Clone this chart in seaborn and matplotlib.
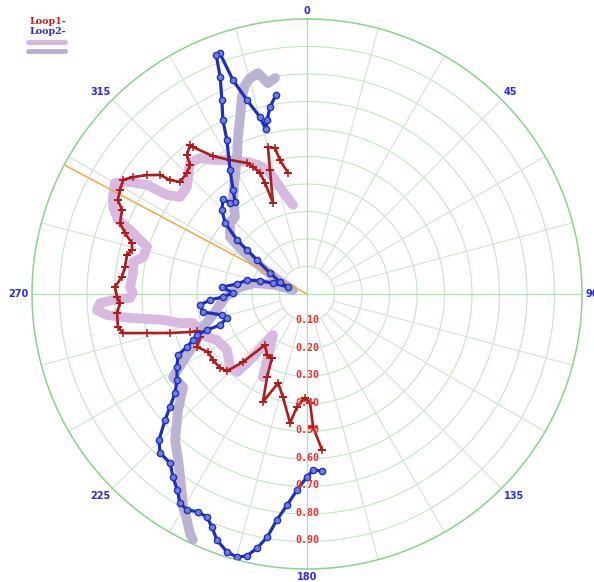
import numpy as np
import pandas as pd
import matplotlib
matplotlib.use("Agg")
import matplotlib.pyplot as plt
from matplotlib.lines import Line2D
import seaborn as sns

# Loop1: compass bearing (degrees, clockwise from north) and radius
loop1_deg = [351.1, 348.6, 347.6, 345.1, 343.4, 339.5, 339.3, 338.8, 337.0, 335.4,
             330.1, 325.7, 322.2, 321.9, 319.2, 317.8, 315.2, 311.4, 309.8, 309.0,
             306.6, 303.9, 301.8, 299.1, 296.4, 294.4, 290.8, 288.5, 286.2, 284.1,
             282.2, 278.4, 275.3, 272.1, 269.1, 267.2, 264.3, 260.1, 258.0, 256.3,
             254.1, 252.0, 251.4, 248.1, 244.3, 239.6, 234.9, 229.6, 226.1, 223.3,
             219.5, 213.3, 208.7, 205.7, 202.2, 198.0, 193.1, 187.5, 185.1, 181.1,
             178.4, 177.4, 174.5]
loop1_r = [0.445, 0.497, 0.544, 0.553, 0.471, 0.353, 0.432, 0.472, 0.502, 0.524,
           0.562, 0.607, 0.676, 0.689, 0.668, 0.633, 0.620, 0.616, 0.648, 0.688,
           0.725, 0.762, 0.787, 0.778, 0.768, 0.739, 0.727, 0.698, 0.663, 0.656,
           0.670, 0.669, 0.676, 0.699, 0.691, 0.681, 0.694, 0.698, 0.684, 0.599,
           0.518, 0.447, 0.422, 0.419, 0.444, 0.417, 0.418, 0.415, 0.404, 0.340,
           0.240, 0.265, 0.265, 0.335, 0.424, 0.340, 0.385, 0.473, 0.413, 0.378,
           0.396, 0.484, 0.570]

# Loop2
loop2_deg = [351.1, 348.8, 347.1, 346.0, 345.1, 342.8, 340.9, 340.1, 339.2, 338.2,
             336.3, 334.2, 332.5, 328.2, 324.6, 322.0, 319.8, 318.5, 314.7, 310.9,
             307.7, 306.3, 304.2, 299.6, 294.0, 290.2, 287.9, 285.5, 283.1, 278.1,
             274.7, 270.8, 268.0, 266.5, 264.1, 260.2, 256.1, 253.3, 250.4, 250.2,
             249.6, 248.0, 246.2, 244.7, 240.7, 236.5, 233.1, 230.5, 228.4, 225.4,
             222.8, 219.0, 216.2, 213.5, 211.3, 209.1, 206.6, 204.2, 202.2, 200.1,
             197.2, 194.9, 192.9, 191.1, 189.3, 187.6, 185.4, 182.9, 180.0, 178.0,
             175.2]
loop2_r = [0.732, 0.693, 0.649, 0.618, 0.666, 0.738, 0.823, 0.932, 0.930, 0.850,
           0.770, 0.703, 0.631, 0.531, 0.464, 0.425, 0.433, 0.461, 0.435, 0.394,
           0.321, 0.271, 0.220, 0.155, 0.107, 0.074, 0.130, 0.177, 0.224, 0.257,
           0.310, 0.269, 0.306, 0.353, 0.391, 0.384, 0.318, 0.304, 0.336, 0.386,
           0.427, 0.447, 0.477, 0.519, 0.542, 0.567, 0.600, 0.646, 0.690, 0.756,
           0.787, 0.791, 0.825, 0.855, 0.889, 0.898, 0.886, 0.889, 0.915, 0.953,
           0.982, 0.990, 0.977, 0.941, 0.896, 0.829, 0.771, 0.714, 0.665, 0.640,
           0.646]

# Reference traces (wide translucent bands)
ref1_deg = [351.1, 348.3, 345.8, 343.8, 342.1, 339.2, 335.6, 330.1, 325.0, 321.8,
            318.2, 311.7, 307.4, 305.3, 304.3, 302.3, 300.0, 296.6, 294.2, 291.4,
            289.9, 287.9, 286.4, 282.7, 280.4, 276.9, 272.3, 270.3, 268.7, 268.2,
            267.5, 265.6, 264.0, 262.3, 259.8, 257.1, 255.7, 246.7, 242.9, 235.0,
            226.5, 221.9, 220.8, 220.3, 219.7, 212.2, 207.9]
ref1_r = [0.328, 0.360, 0.401, 0.443, 0.474, 0.502, 0.527, 0.562, 0.595, 0.629,
          0.639, 0.585, 0.581, 0.624, 0.704, 0.762, 0.807, 0.789, 0.773, 0.738,
          0.684, 0.638, 0.606, 0.611, 0.643, 0.637, 0.644, 0.633, 0.644, 0.706,
          0.753, 0.766, 0.731, 0.650, 0.532, 0.474, 0.428, 0.396, 0.368, 0.355,
          0.386, 0.381, 0.317, 0.253, 0.194, 0.266, 0.342]

ref2_deg = [351.6, 349.5, 347.5, 345.2, 343.5, 341.7, 339.3, 336.3, 332.9, 328.4,
            322.7, 316.9, 312.7, 306.5, 304.5, 301.6, 298.4, 292.2, 286.0, 285.7,
            281.9, 275.9, 267.9, 258.9, 253.1, 247.3, 242.3, 238.2, 233.1, 228.0,
            222.1, 217.8, 213.1, 210.2, 208.0, 206.1, 204.9]
ref2_r = [0.794, 0.780, 0.823, 0.812, 0.793, 0.754, 0.688, 0.624, 0.559, 0.500,
          0.444, 0.383, 0.381, 0.348, 0.296, 0.222, 0.153, 0.086, 0.053, 0.121,
          0.193, 0.245, 0.298, 0.341, 0.388, 0.434, 0.501, 0.573, 0.564, 0.631,
          0.716, 0.764, 0.838, 0.896, 0.930, 0.968, 0.986]

cursor_deg = 298.0
cursor_r = 1.0

ring_values = [0.1, 0.2, 0.3, 0.4, 0.5, 0.6, 0.7, 0.8, 0.9]
ring_labels = ["0.10", "0.20", "0.30", "0.40", "0.50", "0.60", "0.70", "0.80", "0.90"]
angle_ticks = [0, 45, 90, 135, 180, 225, 270, 315]
series_names = ["Loop1-", "Loop2-"]

sns.set_theme(style="white")

fig = plt.figure(figsize=(5.94, 5.82), dpi=100)
fig.patch.set_facecolor("white")
ax = fig.add_axes([32 / 594, 13 / 582, 550 / 594, 550 / 582], projection="polar")
ax.set_theta_zero_location("N")
ax.set_theta_direction(-1)
ax.set_ylim(0, 1.0)
ax.grid(False)
ax.set_xticks([])
ax.set_yticks([])
ax.spines["polar"].set_visible(False)
ax.set_facecolor("white")

# polar grid: rings, spokes every 15 degrees, main axes through the centre
full = np.linspace(0, 2 * np.pi, 721)
for rv in ring_values:
    ax.plot(full, np.full_like(full, rv), color="#c4e6c4", lw=0.8, zorder=1)
for d in range(0, 360, 15):
    t = np.deg2rad(d)
    if d % 90 == 0:
        ax.plot([t, t], [0, 1.0], color="#a8e4a8", lw=0.9, zorder=1)
    else:
        ax.plot([t, t], [0.1, 1.0], color="#d3e2d3", lw=0.8, zorder=1)
ax.plot(full, np.full_like(full, 1.0), color="#88d488", lw=1.1, zorder=2, clip_on=False)

def frame(deg, r):
    return pd.DataFrame({"theta": np.deg2rad(deg), "r": r})

# wide reference bands
sns.lineplot(data=frame(ref1_deg, ref1_r), x="theta", y="r", sort=False, estimator=None,
             ax=ax, color="#d6b6de", lw=7, alpha=0.95, zorder=3, solid_capstyle="round",
             solid_joinstyle="round")
sns.lineplot(data=frame(ref2_deg, ref2_r), x="theta", y="r", sort=False, estimator=None,
             ax=ax, color="#b9aed0", lw=7, alpha=0.95, zorder=3, solid_capstyle="round",
             solid_joinstyle="round")

# cursor line
ax.plot(np.deg2rad([cursor_deg, cursor_deg]), [0, cursor_r], color="#f2a84a", lw=1.1, zorder=4)

# measured loops
sns.lineplot(data=frame(loop1_deg, loop1_r), x="theta", y="r", sort=False, estimator=None,
             ax=ax, color="#b01c1c", lw=1.9, marker="+", markersize=5.5, mew=1.1,
             mec="#b01c1c", zorder=5)
sns.lineplot(data=frame(loop2_deg, loop2_r), x="theta", y="r", sort=False, estimator=None,
             ax=ax, color="#1f2fb8", lw=2.3, marker="o", markersize=4.5, mew=1.0,
             mec="#1f2fb8", mfc="#7080e0", zorder=6)

ax.set_xlabel("")
ax.set_ylabel("")
ax.set_ylim(0, 1.0)

# radial labels along the 180 spoke
for rv, lab in zip(ring_values, ring_labels):
    ax.text(np.pi, rv - 0.005, lab, color="#f03030", fontsize=7.2, fontweight="bold",
            family="DejaVu Sans Mono", ha="center", va="center", zorder=7)

# bearing labels around the rim
label_pos = {
    0: ("center", "bottom"), 45: ("left", "bottom"), 90: ("left", "center"),
    135: ("left", "top"), 180: ("center", "top"), 225: ("right", "top"),
    270: ("right", "center"), 315: ("right", "bottom"),
}
for d in angle_ticks:
    ha, va = label_pos[d]
    ax.text(np.deg2rad(d), 1.012, str(d), color="#2a2ae6", fontsize=7, fontweight="bold",
            ha=ha, va=va, clip_on=False)

# key in the top-left corner
fig.text(30 / 594, 1 - 21 / 582, series_names[0], color="#c02020", fontsize=6.8,
         fontweight="bold", family="DejaVu Serif", ha="left", va="center")
fig.text(30 / 594, 1 - 31 / 582, series_names[1], color="#2030c8", fontsize=6.8,
         fontweight="bold", family="DejaVu Serif", ha="left", va="center")
fig.add_artist(Line2D([28 / 594, 65 / 594], [1 - 42 / 582, 1 - 42 / 582],
                      transform=fig.transFigure, color="#d6b6de", lw=3.5))
fig.add_artist(Line2D([28 / 594, 65 / 594], [1 - 51 / 582, 1 - 51 / 582],
                      transform=fig.transFigure, color="#b9aed0", lw=3.5))

fig.savefig("out.png", dpi=100, facecolor="white")
